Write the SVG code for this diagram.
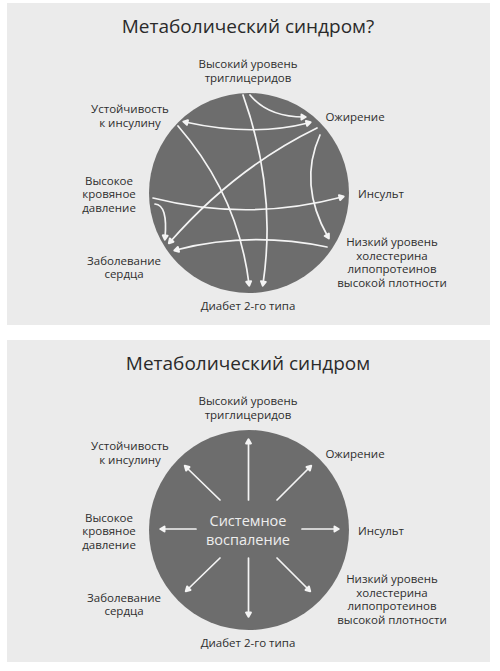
<svg xmlns="http://www.w3.org/2000/svg" width="500" height="671" viewBox="0 0 500 671">
<style>
.panel{fill:#ebebeb}
.hub{fill:#6d6d6d}
.t{font-family:"Open Sans","Noto Sans","Liberation Sans",sans-serif;font-size:11.5px;fill:#2e2e2e;text-anchor:middle}
.title{font-family:"Open Sans","Noto Sans","Liberation Sans",sans-serif;font-size:19px;fill:#2a2a2a;text-anchor:middle}
.c{fill:none;stroke:#f4f4f4;stroke-width:1.7;stroke-linecap:round}
.w{font-family:"Open Sans","Noto Sans","Liberation Sans",sans-serif;font-size:14.5px;fill:#eeeeee;text-anchor:middle}
</style>
<defs>
<marker id="dot" viewBox="0 0 8 8" refX="4.5" refY="4" markerWidth="8" markerHeight="8" markerUnits="userSpaceOnUse" orient="auto">
<path d="M2,1.6 L6.2,4 L2,6.4 Z" fill="#f4f4f4" stroke="#f4f4f4" stroke-width="2" stroke-linejoin="round"/>
</marker>
<marker id="dotS" viewBox="0 0 8 8" refX="3.5" refY="4" markerWidth="8" markerHeight="8" markerUnits="userSpaceOnUse" orient="auto-start-reverse">
<path d="M2,1.6 L6.2,4 L2,6.4 Z" fill="#f4f4f4" stroke="#f4f4f4" stroke-width="2" stroke-linejoin="round"/>
</marker>
</defs>
<rect width="500" height="671" fill="#ffffff"/>

<!-- Panel 1 -->
<g id="panel1">
<rect class="panel" x="7" y="3" width="483" height="322"/>
<text class="title" x="248" y="33">Метаболический синдром?</text>
<circle class="hub" cx="249" cy="193" r="100"/>
</g>
<g id="p1-triglycerides"><text class="t" x="248" y="68">Высокий уровень</text><text class="t" x="248" y="82">триглицеридов</text></g>
<g id="p1-insulin"><text class="t" x="130" y="113">Устойчивость</text><text class="t" x="130" y="127">к инсулину</text></g>
<g id="p1-obesity"><text class="t" x="355" y="121">Ожирение</text></g>
<g id="p1-pressure"><text class="t" x="109" y="184.5">Высокое</text><text class="t" x="109" y="198">кровяное</text><text class="t" x="109" y="211.5">давление</text></g>
<g id="p1-stroke"><text class="t" x="381" y="198">Инсульт</text></g>
<g id="p1-hdl"><text class="t" x="392" y="246">Низкий уровень</text><text class="t" x="392" y="259.5">холестерина</text><text class="t" x="392" y="273">липопротеинов</text><text class="t" x="392" y="286.5">высокой плотности</text></g>
<g id="p1-heart"><text class="t" x="124" y="264.5">Заболевание</text><text class="t" x="124" y="278">сердца</text></g>
<g id="p1-diabetes"><text class="t" x="248" y="310">Диабет 2-го типа</text></g>
<g id="p1-connectors">
<path class="c" d="M250,95 Q268,117 304,117" marker-end="url(#dot)"/>
<path class="c" d="M308,123 Q253,137 185,122" marker-start="url(#dotS)" marker-end="url(#dot)"/>
<path class="c" d="M243,95 Q277,190 263,284" marker-end="url(#dot)"/>
<path class="c" d="M178,126 Q238,195 249,284" marker-end="url(#dot)"/>
<path class="c" d="M317,128 Q235,168 170,242" marker-end="url(#dot)"/>
<path class="c" d="M320,135 Q298,184 328,237" marker-end="url(#dot)"/>
<path class="c" d="M153,198 Q248,222 342,197" marker-end="url(#dot)"/>
<path class="c" d="M155,204 Q168,205 165,238" marker-end="url(#dot)"/>
<path class="c" d="M327,247 Q249,231 176,250" marker-end="url(#dot)"/>
</g>

<!-- Panel 2 -->
<g id="panel2">
<rect class="panel" x="7" y="340" width="483" height="322"/>
<text class="title" x="248" y="370">Метаболический синдром</text>
<circle class="hub" cx="249" cy="530" r="100"/>
</g>
<g id="p2-center"><text class="w" x="248" y="526">Системное</text><text class="w" x="248" y="545">воспаление</text></g>
<g id="p2-triglycerides"><text class="t" x="248" y="405">Высокий уровень</text><text class="t" x="248" y="419">триглицеридов</text></g>
<g id="p2-insulin"><text class="t" x="130" y="450">Устойчивость</text><text class="t" x="130" y="464">к инсулину</text></g>
<g id="p2-obesity"><text class="t" x="355" y="458">Ожирение</text></g>
<g id="p2-pressure"><text class="t" x="109" y="521.5">Высокое</text><text class="t" x="109" y="535">кровяное</text><text class="t" x="109" y="548.5">давление</text></g>
<g id="p2-stroke"><text class="t" x="381" y="535">Инсульт</text></g>
<g id="p2-hdl"><text class="t" x="392" y="583">Низкий уровень</text><text class="t" x="392" y="596.5">холестерина</text><text class="t" x="392" y="610">липопротеинов</text><text class="t" x="392" y="623.5">высокой плотности</text></g>
<g id="p2-heart"><text class="t" x="124" y="601.5">Заболевание</text><text class="t" x="124" y="615">сердца</text></g>
<g id="p2-diabetes"><text class="t" x="248" y="647">Диабет 2-го типа</text></g>
<g id="p2-connectors">
<path class="c" d="M248.5,500 L248.5,441" marker-end="url(#dot)"/>
<path class="c" d="M220,500 L186,467" marker-end="url(#dot)"/>
<path class="c" d="M277,500 L310,467" marker-end="url(#dot)"/>
<path class="c" d="M196,529 L162,529" marker-end="url(#dot)"/>
<path class="c" d="M302,529 L337,529" marker-end="url(#dot)"/>
<path class="c" d="M220,558 L187,590" marker-end="url(#dot)"/>
<path class="c" d="M248.5,558 L248.5,615" marker-end="url(#dot)"/>
<path class="c" d="M277,558 L309,590" marker-end="url(#dot)"/>
</g>
</svg>
